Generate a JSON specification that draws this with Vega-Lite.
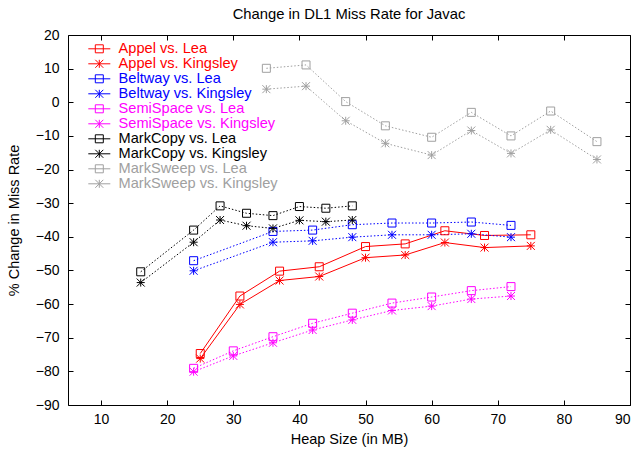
{
  "$schema": "https://vega.github.io/schema/vega-lite/v6.json",
  "width": 562,
  "height": 370,
  "autosize": {"type": "none"},
  "padding": {"left": 68, "top": 35, "right": 9, "bottom": 48},
  "background": "white",
  "title": {"text": "Change in DL1 Miss Rate for Javac", "fontSize": 14.8, "fontWeight": "normal", "font": "Liberation Sans", "color": "black", "anchor": "middle", "offset": 6},
  "config": {
    "view": {"stroke": "black", "strokeWidth": 1},
    "axis": {"labelFont": "Liberation Sans", "titleFont": "Liberation Sans", "labelFontSize": 14, "titleFontSize": 14.5, "titleFontWeight": "normal", "labelColor": "black", "titleColor": "black", "domainColor": "black", "tickColor": "black", "grid": false},
    "legend": {"labelFont": "Liberation Sans", "labelFontSize": 14.6, "symbolSize": 100, "rowPadding": 0, "padding": 0, "labelOffset": 12, "labelLimit": 400, "symbolStrokeWidth": 1}
  },
  "datasets": {
    "d": [
      {"series": "Appel vs. Lea", "baseline": "Lea", "heap": 25, "value": -74.7},
      {"series": "Appel vs. Lea", "baseline": "Lea", "heap": 31, "value": -57.6},
      {"series": "Appel vs. Lea", "baseline": "Lea", "heap": 37, "value": -50.2},
      {"series": "Appel vs. Lea", "baseline": "Lea", "heap": 43, "value": -48.9},
      {"series": "Appel vs. Lea", "baseline": "Lea", "heap": 50, "value": -42.9},
      {"series": "Appel vs. Lea", "baseline": "Lea", "heap": 56, "value": -42.1},
      {"series": "Appel vs. Lea", "baseline": "Lea", "heap": 62, "value": -38.2},
      {"series": "Appel vs. Lea", "baseline": "Lea", "heap": 68, "value": -39.6},
      {"series": "Appel vs. Lea", "baseline": "Lea", "heap": 75, "value": -39.4},
      {"series": "Appel vs. Kingsley", "baseline": "Kingsley", "heap": 25, "value": -76.2},
      {"series": "Appel vs. Kingsley", "baseline": "Kingsley", "heap": 31, "value": -60.1},
      {"series": "Appel vs. Kingsley", "baseline": "Kingsley", "heap": 37, "value": -53.0},
      {"series": "Appel vs. Kingsley", "baseline": "Kingsley", "heap": 43, "value": -51.8},
      {"series": "Appel vs. Kingsley", "baseline": "Kingsley", "heap": 50, "value": -46.2},
      {"series": "Appel vs. Kingsley", "baseline": "Kingsley", "heap": 56, "value": -45.4},
      {"series": "Appel vs. Kingsley", "baseline": "Kingsley", "heap": 62, "value": -41.7},
      {"series": "Appel vs. Kingsley", "baseline": "Kingsley", "heap": 68, "value": -43.2},
      {"series": "Appel vs. Kingsley", "baseline": "Kingsley", "heap": 75, "value": -42.7},
      {"series": "Beltway vs. Lea", "baseline": "Lea", "heap": 24, "value": -47.1},
      {"series": "Beltway vs. Lea", "baseline": "Lea", "heap": 36, "value": -38.4},
      {"series": "Beltway vs. Lea", "baseline": "Lea", "heap": 42, "value": -38.0},
      {"series": "Beltway vs. Lea", "baseline": "Lea", "heap": 48, "value": -36.4},
      {"series": "Beltway vs. Lea", "baseline": "Lea", "heap": 54, "value": -35.9},
      {"series": "Beltway vs. Lea", "baseline": "Lea", "heap": 60, "value": -35.9},
      {"series": "Beltway vs. Lea", "baseline": "Lea", "heap": 66, "value": -35.6},
      {"series": "Beltway vs. Lea", "baseline": "Lea", "heap": 72, "value": -36.6},
      {"series": "Beltway vs. Kingsley", "baseline": "Kingsley", "heap": 24, "value": -50.1},
      {"series": "Beltway vs. Kingsley", "baseline": "Kingsley", "heap": 36, "value": -41.6},
      {"series": "Beltway vs. Kingsley", "baseline": "Kingsley", "heap": 42, "value": -41.2},
      {"series": "Beltway vs. Kingsley", "baseline": "Kingsley", "heap": 48, "value": -40.1},
      {"series": "Beltway vs. Kingsley", "baseline": "Kingsley", "heap": 54, "value": -39.4},
      {"series": "Beltway vs. Kingsley", "baseline": "Kingsley", "heap": 60, "value": -39.4},
      {"series": "Beltway vs. Kingsley", "baseline": "Kingsley", "heap": 66, "value": -39.1},
      {"series": "Beltway vs. Kingsley", "baseline": "Kingsley", "heap": 72, "value": -40.1},
      {"series": "SemiSpace vs. Lea", "baseline": "Lea", "heap": 24, "value": -79.1},
      {"series": "SemiSpace vs. Lea", "baseline": "Lea", "heap": 30, "value": -73.9},
      {"series": "SemiSpace vs. Lea", "baseline": "Lea", "heap": 36, "value": -69.7},
      {"series": "SemiSpace vs. Lea", "baseline": "Lea", "heap": 42, "value": -65.7},
      {"series": "SemiSpace vs. Lea", "baseline": "Lea", "heap": 48, "value": -62.7},
      {"series": "SemiSpace vs. Lea", "baseline": "Lea", "heap": 54, "value": -59.7},
      {"series": "SemiSpace vs. Lea", "baseline": "Lea", "heap": 60, "value": -57.9},
      {"series": "SemiSpace vs. Lea", "baseline": "Lea", "heap": 66, "value": -56.0},
      {"series": "SemiSpace vs. Lea", "baseline": "Lea", "heap": 72, "value": -54.8},
      {"series": "SemiSpace vs. Kingsley", "baseline": "Kingsley", "heap": 24, "value": -80.1},
      {"series": "SemiSpace vs. Kingsley", "baseline": "Kingsley", "heap": 30, "value": -75.4},
      {"series": "SemiSpace vs. Kingsley", "baseline": "Kingsley", "heap": 36, "value": -71.5},
      {"series": "SemiSpace vs. Kingsley", "baseline": "Kingsley", "heap": 42, "value": -67.7},
      {"series": "SemiSpace vs. Kingsley", "baseline": "Kingsley", "heap": 48, "value": -64.7},
      {"series": "SemiSpace vs. Kingsley", "baseline": "Kingsley", "heap": 54, "value": -61.9},
      {"series": "SemiSpace vs. Kingsley", "baseline": "Kingsley", "heap": 60, "value": -60.6},
      {"series": "SemiSpace vs. Kingsley", "baseline": "Kingsley", "heap": 66, "value": -58.5},
      {"series": "SemiSpace vs. Kingsley", "baseline": "Kingsley", "heap": 72, "value": -57.6},
      {"series": "MarkCopy vs. Lea", "baseline": "Lea", "heap": 16, "value": -50.4},
      {"series": "MarkCopy vs. Lea", "baseline": "Lea", "heap": 24, "value": -38.0},
      {"series": "MarkCopy vs. Lea", "baseline": "Lea", "heap": 28, "value": -30.8},
      {"series": "MarkCopy vs. Lea", "baseline": "Lea", "heap": 32, "value": -33.0},
      {"series": "MarkCopy vs. Lea", "baseline": "Lea", "heap": 36, "value": -33.7},
      {"series": "MarkCopy vs. Lea", "baseline": "Lea", "heap": 40, "value": -31.0},
      {"series": "MarkCopy vs. Lea", "baseline": "Lea", "heap": 44, "value": -31.5},
      {"series": "MarkCopy vs. Lea", "baseline": "Lea", "heap": 48, "value": -30.8},
      {"series": "MarkCopy vs. Kingsley", "baseline": "Kingsley", "heap": 16, "value": -53.6},
      {"series": "MarkCopy vs. Kingsley", "baseline": "Kingsley", "heap": 24, "value": -41.6},
      {"series": "MarkCopy vs. Kingsley", "baseline": "Kingsley", "heap": 28, "value": -35.0},
      {"series": "MarkCopy vs. Kingsley", "baseline": "Kingsley", "heap": 32, "value": -36.7},
      {"series": "MarkCopy vs. Kingsley", "baseline": "Kingsley", "heap": 36, "value": -37.5},
      {"series": "MarkCopy vs. Kingsley", "baseline": "Kingsley", "heap": 40, "value": -35.1},
      {"series": "MarkCopy vs. Kingsley", "baseline": "Kingsley", "heap": 44, "value": -35.5},
      {"series": "MarkCopy vs. Kingsley", "baseline": "Kingsley", "heap": 48, "value": -35.0},
      {"series": "MarkSweep vs. Lea", "baseline": "Lea", "heap": 35, "value": 10.1},
      {"series": "MarkSweep vs. Lea", "baseline": "Lea", "heap": 41, "value": 11.1},
      {"series": "MarkSweep vs. Lea", "baseline": "Lea", "heap": 47, "value": 0.2},
      {"series": "MarkSweep vs. Lea", "baseline": "Lea", "heap": 53, "value": -7.0},
      {"series": "MarkSweep vs. Lea", "baseline": "Lea", "heap": 60, "value": -10.4},
      {"series": "MarkSweep vs. Lea", "baseline": "Lea", "heap": 66, "value": -3.0},
      {"series": "MarkSweep vs. Lea", "baseline": "Lea", "heap": 72, "value": -10.0},
      {"series": "MarkSweep vs. Lea", "baseline": "Lea", "heap": 78, "value": -2.6},
      {"series": "MarkSweep vs. Lea", "baseline": "Lea", "heap": 85, "value": -11.7},
      {"series": "MarkSweep vs. Kingsley", "baseline": "Kingsley", "heap": 35, "value": 3.9},
      {"series": "MarkSweep vs. Kingsley", "baseline": "Kingsley", "heap": 41, "value": 4.8},
      {"series": "MarkSweep vs. Kingsley", "baseline": "Kingsley", "heap": 47, "value": -5.5},
      {"series": "MarkSweep vs. Kingsley", "baseline": "Kingsley", "heap": 53, "value": -12.2},
      {"series": "MarkSweep vs. Kingsley", "baseline": "Kingsley", "heap": 60, "value": -15.7},
      {"series": "MarkSweep vs. Kingsley", "baseline": "Kingsley", "heap": 66, "value": -8.4},
      {"series": "MarkSweep vs. Kingsley", "baseline": "Kingsley", "heap": 72, "value": -15.2},
      {"series": "MarkSweep vs. Kingsley", "baseline": "Kingsley", "heap": 78, "value": -8.2},
      {"series": "MarkSweep vs. Kingsley", "baseline": "Kingsley", "heap": 85, "value": -17.0}
    ]
  },
  "data": {"name": "d"},
  "resolve": {"axis": {"x": "independent", "y": "independent"}},
  "layer": [
    {
      "transform": [{"filter": "indexof(datum.series, 'Appel') === 0"}],
      "mark": {"type": "line", "strokeWidth": 1, "clip": true},
      "encoding": {
        "x": {"field": "heap", "type": "quantitative", "scale": {"domain": [5, 90], "nice": false, "zero": false},
              "axis": {"title": "Heap Size (in MB)", "values": [10, 20, 30, 40, 50, 60, 70, 80, 90], "tickSize": -5, "labelPadding": 12, "titlePadding": 6, "domain": false}},
        "y": {"field": "value", "type": "quantitative", "scale": {"domain": [-90, 20], "nice": false, "zero": false},
              "axis": {"title": "% Change in Miss Rate", "values": [-90, -80, -70, -60, -50, -40, -30, -20, -10, 0, 10, 20], "tickSize": -5, "labelPadding": 14, "titlePadding": 14, "domain": false}},
        "color": {"field": "series", "type": "nominal",
                  "scale": {"domain": ["Appel vs. Lea", "Appel vs. Kingsley", "Beltway vs. Lea", "Beltway vs. Kingsley", "SemiSpace vs. Lea", "SemiSpace vs. Kingsley", "MarkCopy vs. Lea", "MarkCopy vs. Kingsley", "MarkSweep vs. Lea", "MarkSweep vs. Kingsley"],
                            "range": ["#ff0000", "#ff0000", "#0000ff", "#0000ff", "#ff00ff", "#ff00ff", "#000000", "#000000", "#a0a0a0", "#a0a0a0"]},
                  "legend": {
                    "title": null, "orient": "none", "legendX": 24, "legendY": 6.5,
                    "labelFontSize": 14.6, "rowPadding": 0, "symbolSize": 100, "labelOffset": 12,
                    "symbolType": {"expr": "indexof(datum.value, 'Kingsley') >= 0 ? 'M-2.2,0H2.2M0,-0.8V0.8M-0.8,-0.8L0.8,0.8M-0.8,0.8L0.8,-0.8' : 'M-2.2,0H2.2M-0.8,-0.8H0.8V0.8H-0.8Z'"},
                    "symbolFillColor": "transparent",
                    "symbolDash": [],
                    "labelColor": {"expr": "scale('color', datum.value)"}
                  }}
      }
    },
    {
      "transform": [{"filter": "indexof(datum.series, 'Appel') !== 0"}],
      "mark": {"type": "line", "strokeWidth": 1, "strokeDash": [1.5, 2], "clip": true},
      "encoding": {
        "x": {"field": "heap", "type": "quantitative", "axis": null},
        "y": {"field": "value", "type": "quantitative", "axis": null},
        "color": {"field": "series", "type": "nominal", "legend": null}
      }
    },
    {
      "mark": {"type": "point", "filled": false, "size": 64, "strokeWidth": 1, "opacity": 1},
      "encoding": {
        "x": {"field": "heap", "type": "quantitative", "axis": {"orient": "top", "title": null, "labels": false, "values": [10, 20, 30, 40, 50, 60, 70, 80, 90], "tickSize": -5, "domain": false}},
        "y": {"field": "value", "type": "quantitative", "axis": {"orient": "right", "title": null, "labels": false, "values": [-90, -80, -70, -60, -50, -40, -30, -20, -10, 0, 10, 20], "tickSize": -5, "domain": false}},
        "color": {"field": "series", "type": "nominal", "legend": null},
        "shape": {"field": "baseline", "type": "nominal", "legend": null,
                  "scale": {"domain": ["Lea", "Kingsley"], "range": ["square", "M-1,0L1,0M0,-1L0,1M-1,-1L1,1M-1,1L1,-1"]}}
      }
    }
  ]
}
